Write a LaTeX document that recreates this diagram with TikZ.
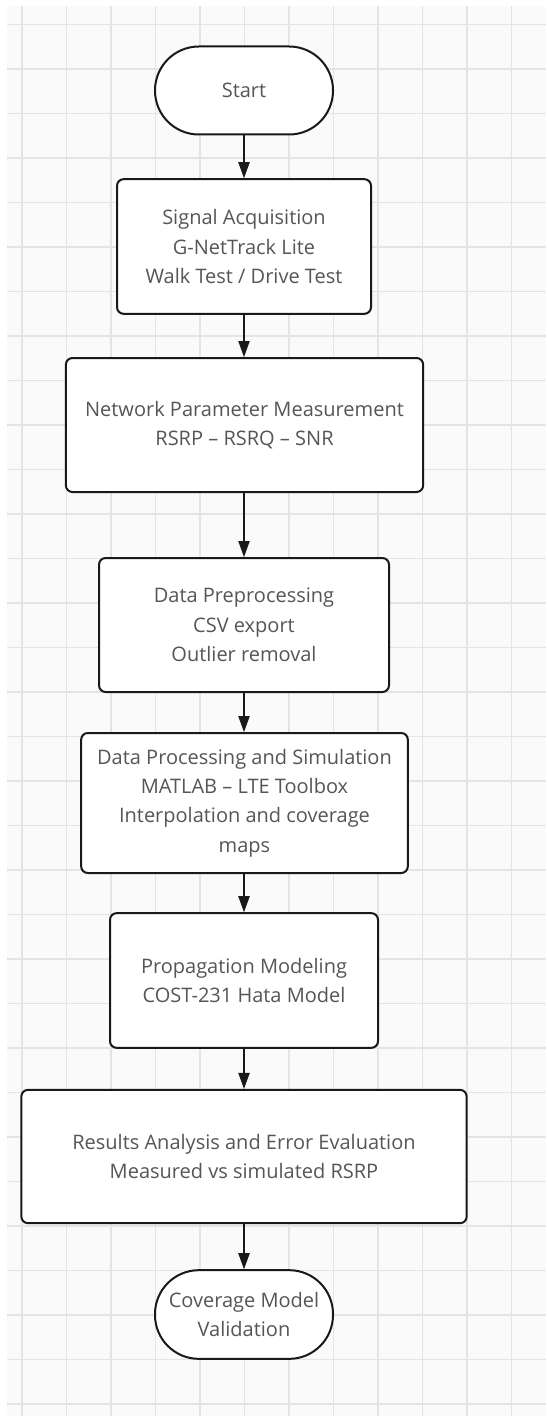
\documentclass[tikz,border=0pt]{standalone}
\usepackage{fontspec}
\setmainfont{Open Sans}
\usepackage{tikz}
\usetikzlibrary{arrows.meta, positioning}

\definecolor{gridline}{RGB}{228,228,228}
\definecolor{gridfill}{RGB}{250,250,250}
\definecolor{boxline}{RGB}{25,25,25}
\definecolor{labeltext}{RGB}{85,85,90}

\tikzset{
	stepbox/.style={draw=boxline, line width=1.5pt, rounded corners=5pt, fill=white,
		inner sep=0pt, align=center, text=labeltext,
		font=\fontsize{15}{22}\selectfont},
	terminal/.style={stepbox, rounded corners=32.9pt},
	flowarrow/.style={draw=boxline, line width=0.9pt, -{Triangle[width=8.5pt,length=12pt]}}
}

\begin{document}
\begin{tikzpicture}[x=0.75pt,y=0.75pt,yscale=-1,xscale=1]
	%set diagram size: 546 x 1416
	\useasboundingbox (0,0) rectangle (546,1416);
	\fill [white] (0,0) rectangle (546,1416);

	%Background grid
	\fill [gridfill] (7,6) rectangle (546,1416);
	\foreach \gx in {0,...,11} {
		\draw [gridline, line width=1.1pt] (22+44.5*\gx,6) -- (22+44.5*\gx,1416);
	}
	\foreach \gy in {0,...,31} {
		\draw [gridline, line width=1.1pt] (7,24.5+44.5*\gy) -- (546,24.5+44.5*\gy);
	}

	%Shape: Terminal [start]
	\node (start) [terminal, minimum width=133.5pt, minimum height=66pt] at (244,90.5) {Start};
	%Shape: Rectangle [acquisition]
	\node (acq) [stepbox, minimum width=190.5pt, minimum height=101pt] at (244,246.5)
		{Signal Acquisition\\G-NetTrack Lite\\Walk Test / Drive Test};
	%Shape: Rectangle [measurement]
	\node (meas) [stepbox, minimum width=268pt, minimum height=100.5pt] at (244.5,425)
		{Network Parameter Measurement\\RSRP – RSRQ – SNR};
	%Shape: Rectangle [preprocessing]
	\node (prep) [stepbox, minimum width=217.5pt, minimum height=100.5pt] at (244,625)
		{Data Preprocessing\\CSV export\\Outlier removal};
	%Shape: Rectangle [processing]
	\node (proc) [stepbox, minimum width=245pt, minimum height=105pt] at (244.5,803)
		{Data Processing and Simulation\\MATLAB – LTE Toolbox\\Interpolation and coverage\\maps};
	%Shape: Rectangle [propagation]
	\node (prop) [stepbox, minimum width=201pt, minimum height=101pt] at (244,980.5)
		{Propagation Modeling\\COST-231 Hata Model};
	%Shape: Rectangle [results]
	\node (res) [stepbox, minimum width=334pt, minimum height=100pt] at (244,1156.5)
		{Results Analysis and Error Evaluation\\Measured vs simulated RSRP};
	%Shape: Terminal [validation]
	\node (valid) [terminal, minimum width=133.5pt, minimum height=66.5pt] at (244,1314.5)
		{Coverage Model\\Validation};

	%Straight Lines [flow]
	\draw [flowarrow] (start.south) -- (acq.north);
	\draw [flowarrow] (acq.south) -- (meas.north -| acq.south);
	\draw [flowarrow] (meas.south -| acq.south) -- (prep.north -| acq.south);
	\draw [flowarrow] (prep.south) -- (proc.north -| prep.south);
	\draw [flowarrow] (proc.south -| prep.south) -- (prop.north);
	\draw [flowarrow] (prop.south) -- (res.north -| prop.south);
	\draw [flowarrow] (res.south) -- (valid.north);

\end{tikzpicture}
\end{document}
